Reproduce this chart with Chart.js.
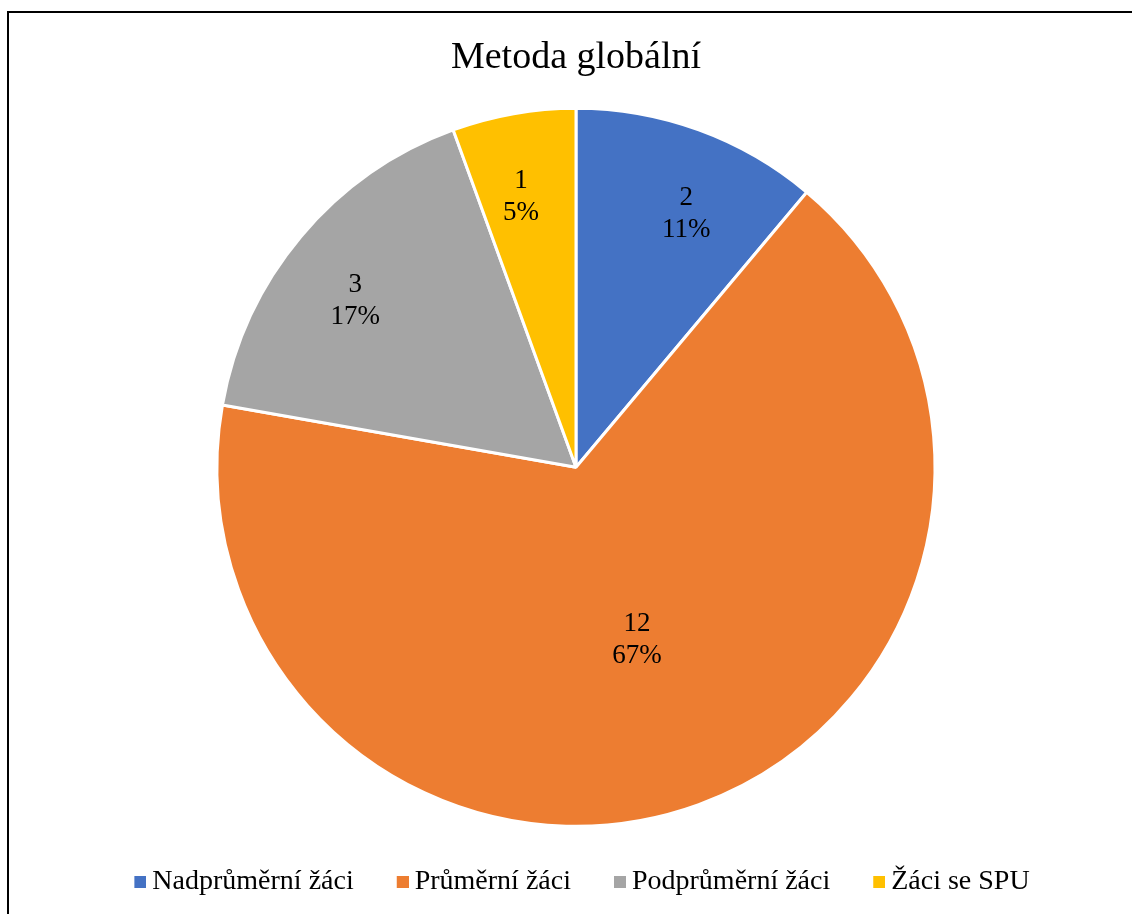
<!DOCTYPE html>
<html lang="cs">
<head>
<meta charset="utf-8">
<title>Metoda globální</title>
<script src="https://cdn.jsdelivr.net/npm/chart.js@4/dist/chart.umd.min.js"></script>
<style>
    html, body { margin: 0; padding: 0; background: #fff; overflow: hidden; }
    #ramecek {
        position: absolute; left: 7px; top: 11px; width: 1200px; height: 1000px;
        border-top: 2px solid #000; border-left: 2px solid #000;
        box-sizing: border-box;
    }
    #obal { position: absolute; left: 0; top: 0; width: 1132px; height: 906px; }
</style>
</head>
<body>
<div id="ramecek"></div>
<div id="obal"><canvas id="kolac"></canvas></div>
<script>
// --- data ---
const kategorie = ['Nadprůměrní žáci', 'Průměrní žáci', 'Podprůměrní žáci', 'Žáci se SPU'];
const pocty = [2, 12, 3, 1];
const procenta = ['11%', '67%', '17%', '5%'];
const barvy = ['#4472C4', '#ED7D31', '#A5A5A5', '#FFC000'];

const PISMO = "'Liberation Serif', 'Times New Roman', serif";

// malý čtvereček do legendy - posunutý doprava, aby byl blíž k textu
function ctverecek(barva) {
    const c = document.createElement('canvas');
    c.width = 20;
    c.height = 12;
    const g = c.getContext('2d');
    g.fillStyle = barva;
    g.fillRect(8, 0, 12, 12);
    return c;
}

// popisky uvnitř výsečí (hodnota + procento)
const popiskyPlugin = {
    id: 'popisky',
    afterDatasetsDraw(chart) {
        const ctx = chart.ctx;
        const meta = chart.getDatasetMeta(0);
        // drobné doladění úhlu popisku (stupně), jako v Excelu
        const posun = [3.5, 0.5, -3, -1.5];
        ctx.save();
        ctx.font = '27px ' + PISMO;
        ctx.fillStyle = '#000';
        ctx.textAlign = 'center';
        ctx.textBaseline = 'middle';
        meta.data.forEach((arc, i) => {
            const p = arc.getProps(['x', 'y', 'startAngle', 'endAngle', 'outerRadius'], true);
            const uhel = (p.startAngle + p.endAngle) / 2 + posun[i] * Math.PI / 180;
            // velká výseč má popisek blíž ke středu
            const k = pocty[i] > 6 ? 0.51 : 0.77;
            const x = p.x + Math.cos(uhel) * p.outerRadius * k;
            const y = p.y + Math.sin(uhel) * p.outerRadius * k;
            ctx.fillText(String(pocty[i]), x, y - 16);
            ctx.fillText(procenta[i], x, y + 16);
        });
        ctx.restore();
    }
};

// legenda je v originále o kousek vpravo od středu koláče
const posunLegendy = {
    id: 'posunLegendy',
    afterLayout(chart) {
        chart.legend.left += 6;
        chart.legend.right += 6;
    }
};

new Chart(document.getElementById('kolac'), {
    type: 'pie',
    data: {
        labels: kategorie,
        datasets: [{
            data: pocty,
            backgroundColor: barvy,
            borderColor: '#ffffff',
            borderWidth: 3,
            radius: 359
        }]
    },
    options: {
        responsive: true,
        maintainAspectRatio: false,
        animation: false,
        layout: { padding: { left: 20 } },
        plugins: {
            title: {
                display: true,
                text: 'Metoda globální',
                color: '#000',
                font: { family: PISMO, size: 38, weight: 'normal' },
                padding: { top: 35, bottom: 29 }
            },
            legend: {
                position: 'bottom',
                labels: {
                    color: '#000',
                    font: { family: PISMO, size: 28 },
                    usePointStyle: true,
                    pointStyleWidth: 4,
                    boxHeight: 12,
                    padding: 43,
                    generateLabels(chart) {
                        return kategorie.map((t, i) => ({
                            text: t,
                            fillStyle: barvy[i],
                            strokeStyle: barvy[i],
                            lineWidth: 0,
                            pointStyle: ctverecek(barvy[i]),
                            hidden: false,
                            index: i
                        }));
                    }
                }
            },
            tooltip: { enabled: false }
        }
    },
    plugins: [popiskyPlugin, posunLegendy]
});
</script>
</body>
</html>
